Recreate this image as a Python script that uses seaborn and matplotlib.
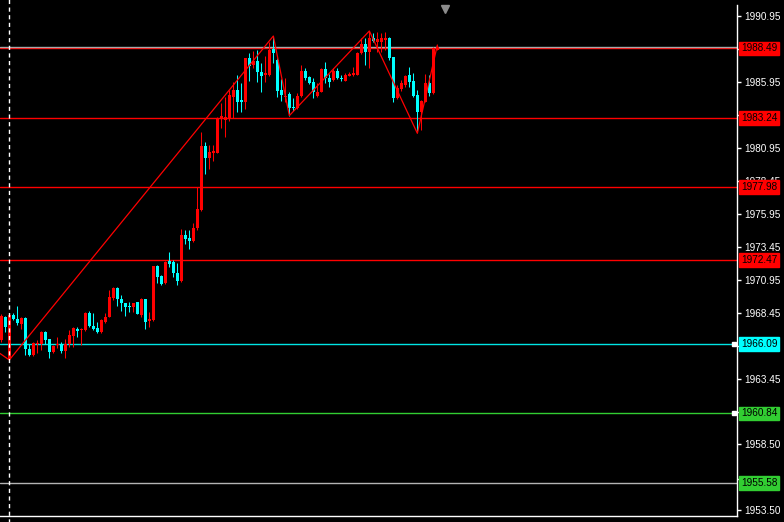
import numpy as np
import pandas as pd
import matplotlib
matplotlib.use("Agg")
import matplotlib.pyplot as plt
import matplotlib.transforms as mtrans
import seaborn as sns

# ---------------- data ----------------
opens = [1966.40, 1968.15, 1964.97, 1968.30, 1968.00, 1967.62, 1968.07, 1965.72, 1965.27, 1966.10,
         1966.10, 1967.01, 1966.48, 1965.50, 1966.02, 1966.10, 1965.57, 1966.10, 1966.71, 1967.24,
         1967.16, 1967.16, 1968.45, 1967.46, 1967.31, 1967.01, 1967.77, 1968.15, 1969.58, 1970.34,
         1969.51, 1969.20, 1969.00, 1968.88, 1969.26, 1968.30, 1969.51, 1967.84, 1967.92, 1972.02,
         1971.25, 1970.70, 1972.41, 1972.34, 1971.46, 1970.90, 1974.36, 1974.11, 1973.93, 1974.86,
         1976.25, 1981.10, 1980.21, 1980.55, 1980.59, 1983.20, 1983.10, 1983.20, 1984.84, 1985.34,
         1984.59, 1984.46, 1987.79, 1987.24, 1987.54, 1986.73, 1986.48, 1986.48, 1988.43, 1987.62,
         1985.34, 1984.81, 1985.02, 1984.08, 1983.96, 1984.89, 1986.78, 1986.35, 1985.97, 1984.89,
         1985.21, 1986.94, 1986.23, 1986.10, 1986.81, 1986.23, 1986.05, 1986.43, 1986.48, 1986.48,
         1988.12, 1988.81, 1988.20, 1989.31, 1989.00, 1989.00, 1989.13, 1989.26, 1987.87, 1984.72,
         1985.40, 1985.72, 1986.48, 1986.03, 1984.97, 1983.65, 1984.46, 1985.85, 1985.09, 1988.37]
highs = [1968.37, 1968.22, 1968.45, 1968.45, 1968.98, 1968.15, 1968.15, 1966.10, 1966.25, 1966.40,
         1967.08, 1967.08, 1966.48, 1966.02, 1966.63, 1966.25, 1966.48, 1967.16, 1967.39, 1967.39,
         1967.31, 1968.53, 1968.60, 1968.45, 1967.77, 1968.00, 1968.45, 1970.19, 1970.44, 1970.44,
         1969.81, 1969.20, 1969.28, 1969.20, 1969.26, 1969.56, 1969.51, 1968.55, 1972.02, 1972.09,
         1971.33, 1972.41, 1973.09, 1972.47, 1972.21, 1974.82, 1974.74, 1974.74, 1975.25, 1977.99,
         1982.14, 1981.38, 1981.18, 1981.18, 1983.28, 1984.38, 1984.84, 1985.34, 1985.97, 1986.48,
         1985.85, 1987.79, 1988.17, 1988.32, 1988.37, 1987.37, 1987.92, 1989.00, 1989.43, 1987.77,
         1986.18, 1986.25, 1985.21, 1984.72, 1985.09, 1987.24, 1987.03, 1986.43, 1986.23, 1985.85,
         1986.99, 1987.44, 1986.56, 1986.99, 1987.03, 1986.48, 1986.61, 1986.73, 1987.11, 1988.25,
         1989.26, 1989.26, 1989.81, 1989.64, 1989.72, 1989.64, 1989.72, 1989.38, 1987.87, 1985.72,
         1986.10, 1986.48, 1987.11, 1986.61, 1985.34, 1984.59, 1986.53, 1986.48, 1988.62, 1988.75]
lows = [1966.25, 1967.01, 1964.89, 1967.92, 1967.54, 1967.24, 1965.27, 1965.19, 1965.19, 1965.42,
        1965.65, 1966.10, 1965.04, 1965.42, 1965.80, 1965.42, 1965.04, 1965.88, 1965.88, 1966.63,
        1966.02, 1967.08, 1967.39, 1967.16, 1966.97, 1966.93, 1967.69, 1968.11, 1969.43, 1968.98,
        1968.62, 1968.22, 1968.55, 1968.55, 1968.35, 1968.17, 1967.22, 1967.39, 1967.87, 1970.74,
        1970.57, 1970.65, 1971.92, 1971.15, 1970.57, 1970.82, 1973.68, 1973.27, 1973.85, 1974.74,
        1976.20, 1978.98, 1979.36, 1979.99, 1980.55, 1982.49, 1981.81, 1983.02, 1983.20, 1983.70,
        1983.70, 1983.90, 1986.03, 1986.99, 1985.97, 1985.17, 1985.97, 1986.43, 1987.37, 1984.84,
        1984.51, 1984.43, 1983.40, 1983.75, 1983.88, 1984.84, 1986.10, 1985.78, 1984.76, 1984.84,
        1985.17, 1985.85, 1985.59, 1986.05, 1986.15, 1986.03, 1986.05, 1986.40, 1986.43, 1986.48,
        1988.05, 1987.24, 1987.03, 1988.96, 1988.25, 1988.25, 1988.37, 1987.62, 1984.46, 1984.66,
        1985.29, 1985.59, 1985.59, 1984.84, 1982.20, 1982.30, 1984.41, 1984.91, 1985.04, 1988.37]
closes = [1968.25, 1967.39, 1968.30, 1968.00, 1967.69, 1968.07, 1965.72, 1965.27, 1966.17, 1966.17,
          1967.01, 1966.40, 1965.50, 1965.95, 1966.10, 1965.57, 1966.10, 1966.78, 1967.31, 1967.08,
          1967.24, 1968.45, 1967.46, 1967.24, 1967.01, 1967.92, 1968.15, 1969.66, 1970.34, 1969.51,
          1969.20, 1968.93, 1968.93, 1969.20, 1968.35, 1969.51, 1967.79, 1968.00, 1972.02, 1971.15,
          1970.65, 1972.34, 1972.16, 1971.46, 1970.90, 1974.36, 1974.06, 1973.90, 1974.91, 1976.33,
          1981.10, 1980.21, 1980.67, 1980.72, 1983.25, 1983.35, 1983.30, 1984.97, 1985.34, 1984.46,
          1984.46, 1987.79, 1987.18, 1987.54, 1986.68, 1986.40, 1986.61, 1988.37, 1988.17, 1985.27,
          1984.97, 1984.89, 1984.00, 1983.96, 1984.91, 1986.78, 1986.23, 1985.85, 1985.21, 1985.21,
          1986.94, 1986.28, 1985.97, 1986.81, 1986.23, 1986.15, 1986.48, 1986.53, 1986.61, 1988.12,
          1988.81, 1988.20, 1989.26, 1989.06, 1989.18, 1989.26, 1989.26, 1987.75, 1984.72, 1985.47,
          1985.85, 1986.43, 1985.97, 1984.91, 1983.65, 1984.51, 1985.85, 1985.09, 1988.55, 1988.58]

zz_idx = [-3, 2, 68, 72, 92, 104, 109]
zz_price = [1965.95, 1964.89, 1989.43, 1983.40, 1989.81, 1982.06, 1988.75]

level_prices = [1988.49, 1983.24, 1977.98, 1972.47, 1966.09, 1960.84, 1955.58]
level_box_colors = ["#FF0000", "#FF0000", "#FF0000", "#FF0000", "#00FFFF", "#32CD32", "#32CD32"]
level_line_colors = ["#FF0000", "#FF0000", "#FF0000", "#FF0000", "#00E5E5", "#32CD32", "#B4B4B4"]
level_markers = [False, False, False, False, True, True, False]

# axis ticks (labels hidden behind the level boxes are left blank)
tick_values = [1990.95, 1988.45, 1985.95, 1983.45, 1980.95, 1978.45, 1975.95, 1973.45,
               1970.95, 1968.45, 1965.95, 1963.45, 1960.95, 1958.50, 1955.90, 1953.50]
tick_labels = ["1990.95", "", "1985.95", "", "1980.95", "1978.45", "1975.95", "1973.45",
               "1970.95", "1968.45", "", "1963.45", "", "1958.50", "", "1953.50"]

UP = "#FF0000"
DOWN = "#00FFFF"

# ---------------- figure ----------------
sns.set_theme(style="dark", rc={"axes.facecolor": "black", "figure.facecolor": "black",
                                "axes.edgecolor": "white", "axes.grid": False})
plt.rcParams["font.family"] = ["Liberation Sans", "DejaVu Sans"]

W, H = 784, 522
fig = plt.figure(figsize=(W / 100, H / 100), dpi=100)
ax = fig.add_axes([0, 6 / H, 737 / W, 511 / H])
ax.set_facecolor("black")

df = pd.DataFrame({"idx": np.arange(len(opens)), "open": opens, "high": highs,
                   "low": lows, "close": closes})
df["color"] = np.where(df["close"] >= df["open"], UP, DOWN)

LW = 0.75   # about one pixel
HLW = 1.0   # level lines

# wicks
ax.vlines(df["idx"], df["low"], df["high"], colors=df["color"], linewidth=LW,
          snap=True, zorder=3)
# bodies
body_h = np.maximum((df["close"] - df["open"]).abs(), 0.08)
ax.bar(df["idx"], body_h, bottom=np.minimum(df["open"], df["close"]), width=0.85,
       color=df["color"], linewidth=0, snap=True, zorder=4)

# level lines
for p, lc in zip(level_prices, level_line_colors):
    ax.axhline(p, color=lc, linewidth=HLW, snap=True, zorder=2)
# bid line
ax.axhline(closes[-1], color="#A8A8A8", linewidth=HLW, snap=True, zorder=2)

# zigzag
sns.lineplot(x=zz_idx, y=zz_price, ax=ax, color="#FF0000", linewidth=0.9,
             estimator=None, sort=False, legend=False, zorder=5)

# dashed vertical line
ax.axvline(2, color="white", linewidth=HLW, linestyle=(0, (3, 2.5)), ymin=-0.02, ymax=1.02,
           clip_on=False, snap=True, zorder=6)

ax.set_xlim(-0.325, 183.9)
ax.set_ylim(1953.07, 1991.78)

# shift marker at top
blend_xd = mtrans.blended_transform_factory(ax.transData, ax.transAxes)
ax.plot([111], [0.993], marker="v", color="#8C8C8C", markersize=6, transform=blend_xd,
        clip_on=False, zorder=7)

# axes styling
ax.yaxis.tick_right()
ax.set_yticks(tick_values)
ax.set_yticklabels(tick_labels)
ax.tick_params(axis="y", colors="white", labelcolor="white", labelsize=7.2, length=3,
               width=HLW, direction="out", pad=2, right=True, left=False)
ax.tick_params(axis="x", bottom=False, labelbottom=False)
for name, s in ax.spines.items():
    s.set_color("white")
    s.set_linewidth(HLW)
ax.spines["left"].set_visible(False)
ax.spines["top"].set_visible(False)
ax.spines["right"].set_visible(True)
ax.spines["bottom"].set_visible(True)
ax.set_xlabel("")
ax.set_ylabel("")

# level labels on the right
blend_ad = mtrans.blended_transform_factory(ax.transAxes, ax.transData)
for p, bc, mk in zip(level_prices, level_box_colors, level_markers):
    ax.text(1 + 4 / 737, p, f"{p:.2f}", transform=blend_ad, ha="left", va="center",
            fontsize=7.2, color="black",
            bbox=dict(boxstyle="square,pad=0.18", fc=bc, ec=bc),
            clip_on=False, zorder=10)
    if mk:
        ax.plot([0.9955], [p], marker="s", markersize=3.5, color="white", markeredgecolor="white",
                transform=blend_ad, clip_on=False, zorder=8)

fig.savefig("out.png", dpi=100, facecolor="black")
